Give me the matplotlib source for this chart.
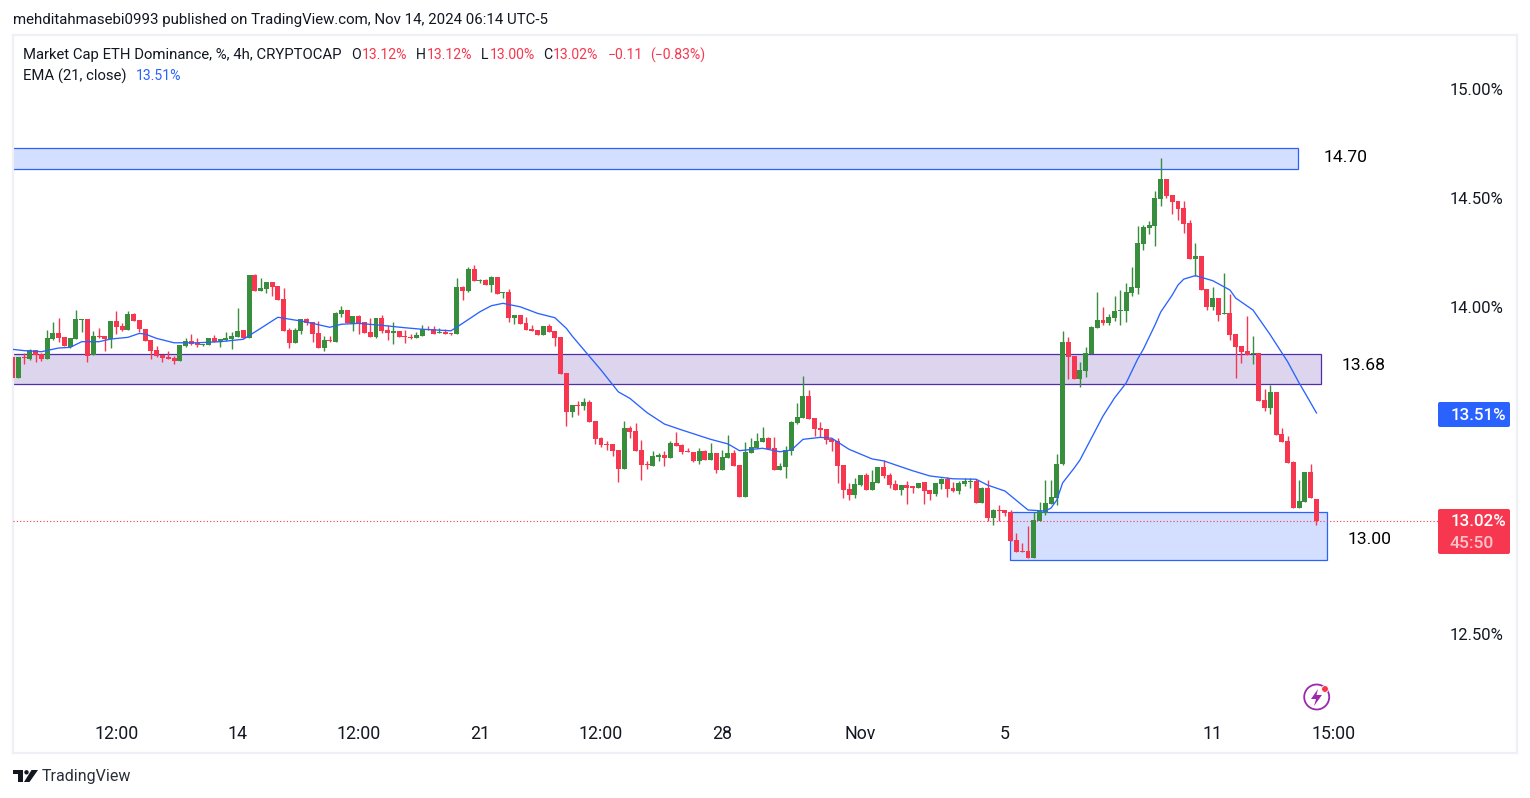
import matplotlib
matplotlib.use("Agg")
import matplotlib.pyplot as plt
from matplotlib.patches import Rectangle, Circle, Polygon, FancyBboxPatch
from matplotlib.transforms import IdentityTransform

opens = [
13.771,13.674,13.771,13.762,13.803,13.785,13.762,13.853,13.881,13.863,
13.817,13.853,13.940,13.945,13.780,13.867,13.867,13.853,13.936,13.913,
13.895,13.968,13.940,13.899,13.849,13.803,13.780,13.771,13.766,13.752,
13.821,13.844,13.835,13.826,13.826,13.858,13.840,13.849,13.853,13.863,
13.895,13.858,14.147,14.074,14.083,14.115,14.097,14.037,13.895,13.835,
13.890,13.945,13.931,13.881,13.812,13.849,13.840,13.968,13.987,13.922,
13.959,13.931,13.886,13.863,13.950,13.895,13.881,13.890,13.867,13.863,
13.858,13.867,13.899,13.899,13.881,13.886,13.881,13.876,14.092,14.074,
14.175,14.120,14.124,14.101,14.138,14.064,14.069,13.950,13.963,13.927,
13.899,13.895,13.872,13.913,13.890,13.863,13.697,13.518,13.550,13.546,
13.564,13.477,13.399,13.371,13.371,13.344,13.257,13.445,13.431,13.344,
13.280,13.270,13.312,13.321,13.307,13.376,13.367,13.339,13.335,13.293,
13.339,13.298,13.330,13.252,13.307,13.330,13.275,13.128,13.330,13.353,
13.381,13.399,13.353,13.252,13.266,13.339,13.468,13.491,13.592,13.490,
13.444,13.440,13.394,13.385,13.275,13.164,13.137,13.183,13.229,13.160,
13.192,13.265,13.229,13.187,13.160,13.183,13.174,13.169,13.197,13.160,
13.142,13.187,13.210,13.169,13.155,13.187,13.198,13.201,13.100,13.169,
13.031,13.068,13.068,13.059,12.930,12.880,12.880,12.848,13.018,13.054,
13.096,13.123,13.279,13.839,13.774,13.669,13.706,13.784,13.903,13.940,
13.926,13.949,13.981,13.981,14.064,14.087,14.289,14.362,14.371,14.495,
14.587,14.514,14.487,14.454,14.386,14.220,14.234,14.083,14.000,14.041,
13.968,13.972,13.876,13.821,13.798,13.784,13.789,13.573,13.536,13.610,
13.417,13.385,13.289,13.077,13.105,13.243,13.120]

closes = [
13.674,13.771,13.766,13.803,13.780,13.762,13.858,13.881,13.858,13.821,
13.858,13.945,13.945,13.775,13.867,13.863,13.853,13.936,13.908,13.895,
13.968,13.936,13.899,13.844,13.798,13.775,13.766,13.762,13.752,13.826,
13.844,13.830,13.826,13.830,13.858,13.840,13.853,13.858,13.867,13.890,
13.858,14.147,14.074,14.087,14.115,14.092,14.032,13.890,13.835,13.895,
13.945,13.927,13.876,13.812,13.849,13.844,13.973,13.987,13.927,13.959,
13.922,13.881,13.863,13.950,13.890,13.881,13.890,13.863,13.863,13.858,
13.872,13.899,13.895,13.876,13.886,13.876,13.876,14.092,14.074,14.175,
14.120,14.124,14.101,14.138,14.060,14.069,13.950,13.963,13.922,13.895,
13.890,13.872,13.913,13.886,13.858,13.693,13.518,13.550,13.546,13.564,
13.472,13.394,13.367,13.367,13.339,13.257,13.445,13.426,13.339,13.275,
13.275,13.316,13.321,13.307,13.376,13.362,13.335,13.335,13.293,13.339,
13.298,13.330,13.252,13.312,13.330,13.270,13.128,13.335,13.358,13.385,
13.399,13.348,13.252,13.270,13.344,13.472,13.495,13.592,13.486,13.440,
13.435,13.389,13.380,13.270,13.160,13.137,13.187,13.229,13.160,13.197,
13.265,13.224,13.183,13.160,13.183,13.169,13.171,13.192,13.155,13.142,
13.192,13.210,13.164,13.155,13.192,13.201,13.201,13.100,13.169,13.031,
13.068,13.065,13.054,12.926,12.875,12.875,12.848,13.022,13.064,13.100,
13.128,13.279,13.839,13.770,13.669,13.710,13.788,13.908,13.940,13.926,
13.953,13.981,13.986,14.068,14.091,14.293,14.367,14.376,14.500,14.587,
14.509,14.482,14.450,14.381,14.220,14.234,14.078,14.000,14.041,13.963,
13.972,13.871,13.816,13.793,13.780,13.789,13.569,13.536,13.610,13.412,
13.380,13.284,13.077,13.110,13.243,13.123,13.020]

highs = [
13.771,13.771,13.788,13.807,13.803,13.789,13.895,13.931,13.950,13.863,
13.858,13.987,13.945,13.945,13.890,13.904,13.867,13.936,13.982,13.927,
13.982,13.973,13.940,13.899,13.849,13.821,13.780,13.798,13.775,13.826,
13.858,13.876,13.858,13.830,13.858,13.872,13.853,13.886,13.886,13.996,
13.895,14.147,14.152,14.133,14.115,14.115,14.097,14.087,13.904,13.904,
13.945,13.950,13.931,13.936,13.867,13.867,13.977,14.005,13.987,13.959,
13.963,13.931,13.950,13.950,13.963,13.918,13.931,13.890,13.895,13.876,
13.886,13.918,13.913,13.913,13.904,13.899,13.881,14.133,14.097,14.184,
14.193,14.129,14.129,14.143,14.138,14.069,14.083,13.963,13.963,13.954,
13.918,13.895,13.913,13.922,13.890,13.863,13.697,13.550,13.569,13.582,
13.573,13.477,13.403,13.385,13.371,13.344,13.477,13.454,13.468,13.390,
13.293,13.339,13.330,13.339,13.385,13.426,13.371,13.353,13.335,13.353,
13.344,13.376,13.330,13.344,13.413,13.344,13.275,13.381,13.399,13.422,
13.449,13.403,13.403,13.284,13.362,13.477,13.560,13.683,13.619,13.490,
13.472,13.440,13.399,13.399,13.275,13.192,13.215,13.229,13.238,13.252,
13.265,13.298,13.238,13.206,13.183,13.201,13.178,13.192,13.197,13.160,
13.192,13.215,13.220,13.197,13.201,13.215,13.215,13.210,13.174,13.206,
13.073,13.091,13.068,13.068,12.963,12.917,12.995,13.059,13.105,13.206,
13.206,13.325,13.889,13.862,13.774,13.747,13.816,13.912,14.068,14.000,
13.967,14.050,14.077,14.110,14.183,14.371,14.376,14.394,14.532,14.683,
14.587,14.514,14.487,14.487,14.399,14.294,14.234,14.083,14.092,14.041,
14.156,14.060,13.876,13.821,13.959,13.867,13.789,13.624,13.642,13.610,
13.445,13.408,13.293,13.206,13.243,13.280,13.120]

lows = [
13.674,13.674,13.739,13.757,13.748,13.752,13.762,13.849,13.840,13.821,
13.812,13.853,13.886,13.748,13.780,13.858,13.798,13.812,13.876,13.890,
13.895,13.936,13.886,13.844,13.762,13.771,13.748,13.762,13.739,13.752,
13.817,13.826,13.817,13.821,13.826,13.840,13.817,13.844,13.807,13.863,
13.858,13.858,14.074,14.074,14.064,14.051,14.032,13.890,13.812,13.835,
13.876,13.918,13.840,13.812,13.798,13.840,13.840,13.954,13.927,13.890,
13.876,13.881,13.863,13.858,13.881,13.849,13.830,13.863,13.835,13.853,
13.858,13.867,13.895,13.876,13.881,13.876,13.872,13.876,14.032,14.069,
14.120,14.110,14.101,14.069,14.060,14.041,13.931,13.922,13.922,13.895,
13.890,13.872,13.872,13.886,13.821,13.693,13.454,13.495,13.504,13.527,
13.472,13.371,13.358,13.344,13.316,13.197,13.257,13.399,13.339,13.206,
13.257,13.270,13.293,13.270,13.307,13.362,13.325,13.335,13.289,13.280,
13.298,13.298,13.238,13.252,13.307,13.270,13.128,13.128,13.330,13.353,
13.381,13.348,13.252,13.252,13.215,13.321,13.463,13.491,13.486,13.408,
13.403,13.371,13.339,13.192,13.123,13.114,13.123,13.178,13.160,13.160,
13.192,13.215,13.169,13.160,13.137,13.096,13.146,13.169,13.096,13.114,
13.132,13.164,13.128,13.151,13.142,13.178,13.169,13.100,13.100,13.018,
13.000,13.018,13.041,12.926,12.875,12.875,12.848,12.848,13.018,13.045,
13.096,13.091,13.275,13.669,13.669,13.632,13.678,13.784,13.903,13.917,
13.917,13.935,13.917,13.930,14.050,14.059,14.261,14.334,14.279,14.463,
14.500,14.427,14.399,14.340,14.220,14.142,14.078,13.986,13.986,13.936,
13.968,13.849,13.674,13.743,13.780,13.738,13.569,13.523,13.509,13.412,
13.380,13.284,13.077,13.077,13.105,13.123,13.000]

ema_bars = [0,2,5,8,10,12,15,17,20,22,23,25,28,32,36,40,43,46,49,50,52,55,57,60,64,68,71,
            76,78,81,83,85,88,91,94,96,97,102,105,107,110,113,116,121,124,126,130,133,135,
            137,140,142,145,149,151,156,159,163,167,169,172,176,179,180,181,182,184,185,189,
            191,193,195,196,198,199,201,202,203,205,208,211,212,215,217,218,221,223,224,226]
ema_vals = [13.806,13.800,13.795,13.812,13.815,13.841,13.841,13.853,13.861,13.879,13.876,13.856,
            13.836,13.836,13.841,13.852,13.902,13.953,13.940,13.936,13.925,13.907,13.921,13.925,
            13.916,13.905,13.898,13.891,13.925,13.978,14.006,14.017,14.001,13.971,13.951,13.902,
            13.867,13.711,13.611,13.581,13.515,13.463,13.436,13.393,13.372,13.341,13.352,13.336,
            13.344,13.393,13.402,13.398,13.347,13.303,13.294,13.249,13.225,13.212,13.210,13.183,
            13.156,13.069,13.064,13.078,13.115,13.193,13.261,13.298,13.500,13.583,13.651,13.761,
            13.807,13.917,13.977,14.055,14.101,14.128,14.144,14.121,14.078,14.041,13.986,13.910,
            13.872,13.749,13.651,13.606,13.514]

x_tick_bars = [18, 39, 60, 81, 102, 123, 147, 172, 208, 229]
x_tick_labels = ["12:00", "14", "12:00", "21", "12:00", "28", "Nov", "5", "11", "15:00"]
y_tick_vals = [15.0, 14.5, 14.0, 12.5]
y_tick_labels = ["15.00%", "14.50%", "14.00%", "12.50%"]

zone_top = (0, 222.8, 14.633, 14.729)
zone_mid = (0, 226.8, 13.647, 13.784)
zone_low = (172.9, 227.8, 12.840, 13.060)

RED = "#F7374F"
GREEN = "#388E3C"
BLUE = "#2962FF"
PURPLE = "#512DA8"
TXT = "#131722"
FONT = "Roboto"

W, H = 1530, 798
plt.rcParams["font.family"] = [FONT, "DejaVu Sans"]
fig = plt.figure(figsize=(W / 100, H / 100), dpi=100, facecolor="white")
ax = fig.add_axes([13 / W, 1 - 753 / H, (1517 - 13) / W, (753 - 35) / H])
ax.set_xlim(0.09, 260.75)
ax.set_ylim(11.954, 15.248)
for s in ax.spines.values():
    s.set_color("#EEF0F6")
    s.set_linewidth(1.6)

bars = list(range(len(opens)))
colors = [GREEN if c >= o else RED for o, c in zip(opens, closes)]

for x0, x1, y0, y1 in (zone_top, zone_low):
    ax.add_patch(Rectangle((x0, y0), x1 - x0, y1 - y0, fc=BLUE + "33", ec=BLUE, lw=0.9, zorder=1))
x0, x1, y0, y1 = zone_mid
ax.add_patch(Rectangle((x0, y0), x1 - x0, y1 - y0, fc=PURPLE + "33", ec=PURPLE, lw=0.9, zorder=1))

ax.vlines(bars, lows, highs, colors=colors, linewidth=1.0, zorder=3)
ax.bar(bars, [max(abs(c - o), 0.006) for o, c in zip(opens, closes)],
       bottom=[min(o, c) for o, c in zip(opens, closes)],
       width=0.86, color=colors, linewidth=0, zorder=3)
ax.plot(ema_bars, ema_vals, color=BLUE, lw=0.95, zorder=4, solid_joinstyle="round")
ax.hlines(closes[-1], 0.09, 247, colors=RED, linewidth=0.8, linestyles=(0, (1, 2)), zorder=5)

ax.set_xticks(x_tick_bars, x_tick_labels)
ax.yaxis.tick_right()
ax.set_yticks(y_tick_vals, y_tick_labels)
ax.tick_params(axis="x", length=0, pad=-20, labelsize=12.8, labelcolor=TXT)
ax.tick_params(axis="y", length=0, pad=-10, labelsize=12, labelcolor=TXT)
for t in ax.get_yticklabels():
    t.set_ha("right")


def label(x, y, s, size=10, color=TXT, ha="left", **kw):
    fig.text(x / W, 1 - y / H, s, fontsize=size, color=color, ha=ha, va="center", zorder=20, **kw)


label(13, 20, "mehditahmasebi0993 published on TradingView.com, Nov 14, 2024 06:14 UTC-5", 10.83)
label(23, 55, "Market Cap ETH Dominance, %, 4h, CRYPTOCAP", 10.7)
for x, s, c in [(351, "O", TXT), (362, "13.12%", RED), (416, "H", TXT), (427, "13.12%", RED),
                (481, "L", TXT), (490, "13.00%", RED), (543, "C", TXT), (553, "13.02%", RED),
                (608, "\u22120.11", RED), (650, "(\u22120.83%)", RED)]:
    label(x, 55, s, 10.1, c)
label(23, 76, "EMA (21, close)", 10.7)
label(136, 76, "13.51%", 10.1, BLUE)

label(1346, 157, "14.70", 12.6, "black", ha="center")
label(1364, 366, "13.68", 12.6, "black", ha="center")
label(1370, 539, "13.00", 12.6, "black", ha="center")

px = IdentityTransform()


def badge(x0, y0, x1, y1, color):
    fig.add_artist(FancyBboxPatch((x0 + 2, H - y1 + 2), x1 - x0 - 4, y1 - y0 - 4,
                                  boxstyle="round,pad=2,rounding_size=2", fc=color, ec="none",
                                  transform=px, zorder=10))


badge(1438, 402, 1510, 427, BLUE)
badge(1438, 509, 1510, 554, RED)
label(1478, 415, "13.51%", 12.2, "white", ha="center", fontweight="medium")
label(1478, 522, "13.02%", 12.2, "white", ha="center", fontweight="medium")
label(1472, 543, "45:50", 12.6, "#FBC4CB", ha="center", fontweight="medium")

# lightning icon
fig.add_artist(Circle((1316.7, H - 697), 12.5, fc="white", ec="#9C27B0", lw=1.3, transform=px, zorder=10))
fig.add_artist(Polygon([(1318, H - 689), (1311, H - 699), (1316, H - 699), (1314, H - 706),
                        (1322, H - 695), (1316.5, H - 695)], fc="#9C27B0", ec="none", transform=px, zorder=11))
fig.add_artist(Circle((1325, H - 689), 3.4, fc=RED, ec="white", lw=0.6, transform=px, zorder=12))

# TradingView logo
logo = "#131722"
fig.add_artist(Polygon([(13, H - 770), (23, H - 770), (23, H - 782), (18, H - 782),
                        (18, H - 774), (13, H - 774)], fc=logo, ec="none", transform=px))
fig.add_artist(Circle((26.5, H - 772.3), 2.2, fc=logo, ec="none", transform=px))
fig.add_artist(Polygon([(31.5, H - 770), (38, H - 770), (29.5, H - 782), (24, H - 782)],
                       fc=logo, ec="none", transform=px))
label(42, 777, "TradingView", 11.5, "#2A2E39")

fig.savefig("out.png", dpi=100, facecolor="white")
